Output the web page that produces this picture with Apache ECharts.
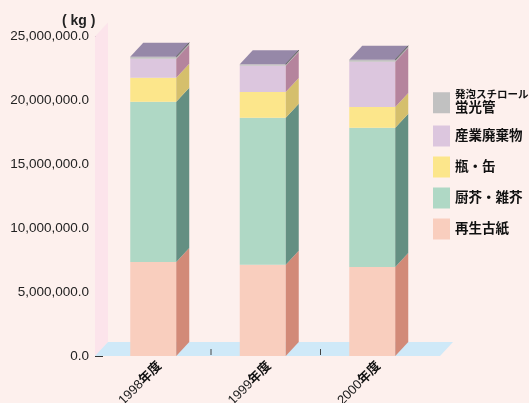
<!DOCTYPE html>
<html>
<head>
<meta charset="utf-8">
<script src="https://cdn.jsdelivr.net/npm/echarts@6/dist/echarts.min.js"></script>
<style>
  html, body { margin: 0; padding: 0; background: #fdf0ed; }
  #main { width: 529px; height: 403px; }
</style>
</head>
<body>
<div id="main"></div>
<script>
const categories = ['1998年度', '1999年度', '2000年度'];
const seriesNames = ['再生古紙', '厨芥・雑芥', '瓶・缶', '産業廃棄物', '発泡スチロール蛍光管'];
const recycledPaper = [7360000, 7140000, 6960000];
const kitchenWaste = [12540000, 11510000, 10900000];
const bottlesCans = [1880000, 2010000, 1620000];
const industrialWaste = [1480000, 2060000, 3550000];
const styrofoamLamps = [160000, 110000, 150000];
const yMax = 25000000;
const yStep = 5000000;

const seriesValues = [recycledPaper, kitchenWaste, bottlesCans, industrialWaste, styrofoamLamps];
const frontColors = ['#f9cebe', '#afd8c5', '#fce68b', '#dcc6de', '#c1c1c1'];
const sideColors = ['#d28a78', '#648f82', '#d5bf6c', '#b5849d', '#a3a3a3'];
const topColor = '#9688a8';
const DX = 13;
const DY = 14;
const FONT = "'Liberation Sans', 'Noto Sans CJK JP', sans-serif";

const myChart = echarts.init(document.getElementById('main'));

// floor + back wall, drawn from the grid rect
function renderFloor(params, api) {
  const cs = params.coordSys;
  const L = cs.x - 10;
  const B = cs.y + cs.height;
  const T = cs.y;
  const R = cs.x + cs.width + 6.5;
  const children = [
    {
      type: 'polygon',
      shape: { points: [[L, B], [L + DX, B - DY], [L + DX, T - DY], [L, T]] },
      style: { fill: '#fce4eb' },
    },
    {
      type: 'polygon',
      shape: { points: [[L, B], [R, B], [R + DX, B - DY], [L + DX, B - DY]] },
      style: { fill: '#cfe9f8' },
    },
  ];
  for (let i = 0; i < categories.length - 1; i++) {
    const a = api.coord([i, 0])[0];
    const b = api.coord([i + 1, 0])[0];
    const mx = (a + b) / 2 - 3.5;
    children.push({
      type: 'line',
      shape: { x1: mx, y1: B - 7, x2: mx, y2: B - 1 },
      style: { stroke: '#444', lineWidth: 1 },
    });
  }
  return { type: 'group', children };
}

function makeRender(k, isTop) {
  return function (params, api) {
    const idx = api.value(0);
    const p0 = api.coord([idx, api.value(1)]);
    const p1 = api.coord([idx, api.value(2)]);
    const bw = api.size([1, 0])[0] * 0.42;
    const x0 = p0[0] - DX / 2 - bw / 2;
    const x1 = x0 + bw;
    const yb = p0[1];
    const yt = p1[1];
    const children = [
      {
        type: 'rect',
        shape: { x: x0, y: yt, width: bw, height: yb - yt },
        style: { fill: frontColors[k] },
      },
      {
        type: 'polygon',
        shape: { points: [[x1, yb], [x1 + DX, yb - DY], [x1 + DX, yt - DY], [x1, yt]] },
        style: { fill: sideColors[k] },
      },
    ];
    if (isTop) {
      children.push({
        type: 'polygon',
        shape: { points: [[x0, yt], [x0 + DX, yt - DY], [x1 + DX, yt - DY], [x1, yt]] },
        style: { fill: topColor },
      }, {
        type: 'line',
        shape: { x1: x1, y1: yt, x2: x1 + DX, y2: yt - DY },
        style: { stroke: '#666', lineWidth: 1 },
      });
    }
    return { type: 'group', children };
  };
}

const series = [{
  type: 'custom',
  name: 'floor',
  renderItem: renderFloor,
  data: [[0, 0]],
  encode: { x: 0, y: 1 },
  silent: true,
  z: 1,
}];

const cum = categories.map(() => 0);
seriesValues.forEach((vals, k) => {
  const data = vals.map((v, i) => {
    const base = cum[i];
    cum[i] += v;
    return [i, base, cum[i]];
  });
  series.push({
    type: 'custom',
    name: seriesNames[k],
    renderItem: makeRender(k, k === seriesValues.length - 1),
    data,
    encode: { x: 0, y: [1, 2] },
    itemStyle: { color: frontColors[k] },
    z: 2,
  });
});

const option = {
  backgroundColor: '#fdf0ed',
  animation: false,
  textStyle: { fontFamily: FONT },
  title: {
    text: '( kg )',
    left: 57,
    top: 9,
    textStyle: { fontSize: 14, fontWeight: 'bold', color: '#222', fontFamily: FONT },
  },
  legend: {
    orient: 'vertical',
    left: 433,
    top: 90,
    padding: 0,
    itemWidth: 17,
    itemHeight: 21,
    itemGap: 10,
    icon: 'rect',
    selectedMode: false,
    data: ['発泡スチロール蛍光管', '産業廃棄物', '瓶・缶', '厨芥・雑芥', '再生古紙'],
    formatter: function (name) {
      if (name === '発泡スチロール蛍光管') {
        return '{s|発泡スチロール}\n{b|蛍光管}';
      }
      return '{b|' + name + '}';
    },
    textStyle: {
      rich: {
        s: { fontSize: 10.5, fontWeight: 'bold', color: '#111', lineHeight: 12, fontFamily: FONT },
        b: { fontSize: 13.5, fontWeight: 'bold', color: '#111', lineHeight: 15, fontFamily: FONT },
      },
    },
  },
  grid: {
    left: 105,
    right: 95.5,
    top: 36.5,
    bottom: 47,
    containLabel: false,
    outerBoundsMode: 'none',
  },
  xAxis: {
    type: 'category',
    data: categories,
    axisLine: { show: false },
    axisTick: { show: false },
    axisLabel: {
      rotate: 45,
      margin: 8,
      formatter: function (v) {
        return '{n|' + v.slice(0, 4) + '}{b|' + v.slice(4) + '}';
      },
      rich: {
        n: { fontSize: 13, color: '#222', fontFamily: FONT },
        b: { fontSize: 13, fontWeight: 'bold', color: '#111', fontFamily: FONT },
      },
    },
  },
  yAxis: {
    type: 'value',
    min: 0,
    max: yMax,
    interval: yStep,
    offset: 2,
    axisLine: { show: false },
    axisTick: { show: true, length: 8, lineStyle: { color: '#333' } },
    splitLine: { show: false },
    axisLabel: {
      margin: 14,
      fontSize: 13.5,
      color: '#222',
      fontFamily: FONT,
      formatter: function (v) {
        return v.toLocaleString('en-US') + '.0';
      },
    },
  },
  series,
};

option && myChart.setOption(option);
</script>
</body>
</html>
